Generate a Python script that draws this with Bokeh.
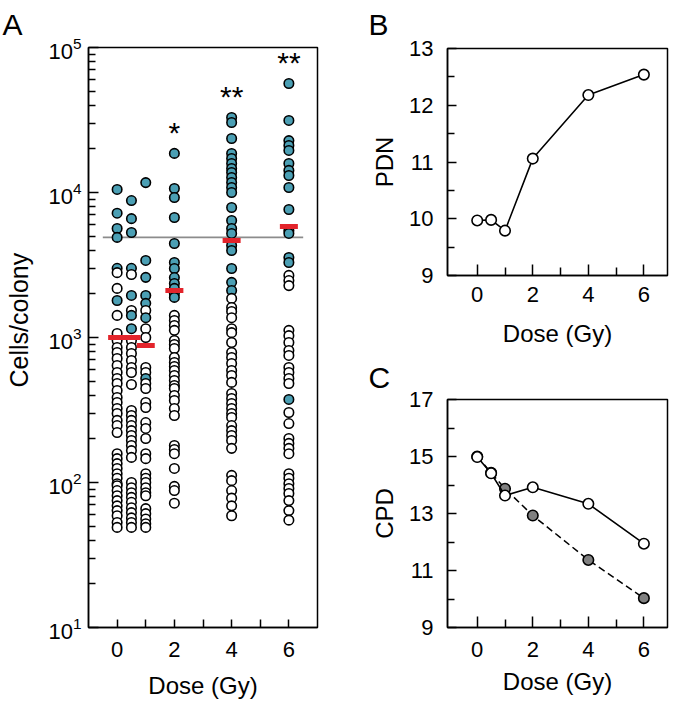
from bokeh.plotting import figure
from bokeh.models import Range1d, FixedTicker, Label, LogTickFormatter, Title
from bokeh.layouts import row, column
from bokeh.embed import file_html
from bokeh.resources import INLINE

FONT = "Liberation Sans"
TEAL = "#4b9fb4"
RED = "#e3242b"
GRAYFILL = "#808080"

# ---------------- Panel A data (cells/colony) ----------------
doses_a = [0, 0.5, 1, 2, 4, 6]

teal_0 = [10500, 7200, 5650, 4900, 3000, 1800]
open_0 = [2800, 2180, 1420, 1065, 954, 853, 788, 717, 641, 574, 522, 482, 431, 386,
          356, 324, 299, 268, 247, 221, 158, 146, 135, 125, 115, 107, 98, 95, 88, 81,
          75, 69, 64, 59, 53, 49]

teal_05 = [8800, 6600, 5300, 3000, 1950, 1420, 1150]
open_05 = [2720, 1535, 954, 853, 776, 694, 621, 574, 474, 314, 290, 268, 247, 228,
           211, 195, 180, 166, 149, 100, 92, 85, 79, 73, 67, 62, 57, 53, 49]

teal_1 = [11700, 3400, 2600, 1950, 1720, 1370, 522]
open_1 = [1535, 1150, 1000, 621, 574, 482, 445, 356, 329, 259, 236, 201, 158, 146,
          115, 107, 100, 92, 85, 81, 66, 61, 56, 52, 49]

teal_2 = [18600, 10650, 9240, 6720, 4450, 3290, 2990, 2590, 2360, 2180, 2010, 1890]
open_2 = [1420, 1310, 1210, 1120, 954, 895, 840, 728, 672, 631, 592, 547, 505, 467,
          445, 398, 368, 324, 290, 180, 169, 158, 125, 94, 88, 72]

teal_4 = [32900, 30400, 23570, 18570, 17160, 15850, 14640, 13740, 12690, 11720, 10830,
          10000, 7880, 6410, 5650, 5220, 4310, 3980, 2990, 2400, 2110]
open_4 = [1860, 1610, 1510, 1370, 1150, 1080, 924, 788, 728, 662, 592, 547, 490, 411,
          380, 351, 324, 299, 281, 247, 228, 211, 195, 172, 112, 103, 88, 78, 69, 59]

teal_6 = [56500, 31400, 22800, 21100, 19500, 15850, 14200, 13100, 10830, 7640, 5470,
          5220, 3560, 3290, 374]
open_6 = [2680, 2470, 2280, 1120, 1030, 924, 814, 752, 621, 574, 522, 482, 304, 255,
          201, 186, 172, 158, 115, 107, 98, 91, 84, 75, 64, 55]

teal_cols = [teal_0, teal_05, teal_1, teal_2, teal_4, teal_6]
open_cols = [open_0, open_05, open_1, open_2, open_4, open_6]
medians_a = [1000, 1000, 880, 2110, 4670, 5830]
threshold_a = 4900
significance = ["", "", "", "*", "**", "**"]
exponents = [1, 2, 3, 4, 5]

# ---------------- Panel B / C data ----------------
doses_bc = [0, 0.5, 1, 2, 4, 6]
pdn = [9.97, 9.98, 9.79, 11.06, 12.18, 12.54]
cpd_open = [14.98, 14.41, 13.63, 13.92, 13.34, 11.94]
cpd_filled = [15.0, 14.43, 13.87, 12.93, 11.37, 10.03]
ticks_b = [9, 10, 11, 12, 13]
ticks_c = [9, 11, 13, 15, 17]
xticks = [0, 2, 4, 6]
xminor = [1, 3, 5]


def style(p, xin, xmin_in, yin, ymin_in, xstand, ystand, xlab, ylab, xlstand, ylstand, ylsize="24px"):
    p.xgrid.visible = False
    p.ygrid.visible = False
    p.outline_line_color = "black"
    p.outline_line_width = 1.5
    p.background_fill_color = "white"
    p.border_fill_color = "white"
    for ax in (p.xaxis[0], p.yaxis[0]):
        ax.axis_line_width = 1.5
        ax.axis_line_color = "black"
        ax.major_tick_out = 0
        ax.minor_tick_out = 0
        ax.major_tick_line_width = 1.5
        ax.minor_tick_line_width = 1.5
        ax.major_tick_line_color = "black"
        ax.minor_tick_line_color = "black"
        ax.major_label_text_font = FONT
        ax.major_label_text_font_size = "22px"
        ax.major_label_text_color = "black"
        ax.axis_label_text_font = FONT
        ax.axis_label_text_font_style = "normal"
        ax.axis_label_text_color = "black"
    xa, ya = p.xaxis[0], p.yaxis[0]
    xa.major_tick_in = xin
    xa.minor_tick_in = xmin_in
    ya.major_tick_in = yin
    ya.minor_tick_in = ymin_in
    xa.major_label_standoff = xstand
    ya.major_label_standoff = ystand
    xa.axis_label = xlab
    ya.axis_label = ylab
    xa.axis_label_standoff = xlstand
    ya.axis_label_standoff = ylstand
    xa.axis_label_text_font_size = "24px"
    ya.axis_label_text_font_size = ylsize


def letter(p, text, offset, standoff):
    p.add_layout(Title(text=text, align="left", offset=offset, standoff=standoff,
                       vertical_align="top", text_font=FONT, text_font_size="30px",
                       text_font_style="normal", text_color="black"), "above")


# ================= Panel A =================
xa0, xa1 = -1, 7
ya0, ya1 = 10, 1e5
pa = figure(width=340, height=707, x_range=Range1d(xa0, xa1), y_range=Range1d(ya0, ya1),
            y_axis_type="log", output_backend="svg", toolbar_location=None,
            min_border_left=88, min_border_right=23, min_border_top=47, min_border_bottom=80)
nbsp = "\u00a0" * 5
style(pa, xin=8, xmin_in=8, yin=10, ymin_in=7, xstand=14, ystand=7,
      xlab="Dose (Gy)", ylab=nbsp + "Cells/colony", xlstand=12, ylstand=12, ylsize="25px")
pa.xaxis[0].ticker = FixedTicker(ticks=xticks, minor_ticks=xminor)
pa.yaxis[0].ticker = FixedTicker(ticks=[10 ** e for e in exponents],
                                 minor_ticks=[m * 10 ** e for e in exponents[:-1] for m in range(2, 10)])
pa.yaxis[0].formatter = LogTickFormatter()
letter(pa, "A", -86, 10)

pa.segment(x0=[doses_a[0] - 0.5], x1=[doses_a[-1] + 0.5], y0=[threshold_a], y1=[threshold_a],
           line_color="#8c8c8c", line_width=1.8)

xs, ys, fills = [], [], []
for d, tl, op in zip(doses_a, teal_cols, open_cols):
    pts = [(v, TEAL) for v in tl] + [(v, "white") for v in op]
    pts.sort(key=lambda t: -t[0])
    for v, c in pts:
        xs.append(d)
        ys.append(v)
        fills.append(c)
pa.scatter(xs, ys, size=9.5, fill_color=fills, line_color="black", line_width=1.6)

pa.rect(x=doses_a, y=medians_a, width=18, height=5, width_units="screen", height_units="screen",
        fill_color=RED, line_color=None)

for d, s, tl, op in zip(doses_a, significance, teal_cols, open_cols):
    if s:
        pa.add_layout(Label(x=d, y=max(tl + op), y_offset=21, text=s, text_font=FONT,
                            text_font_size="30px", text_align="center",
                            text_baseline="alphabetic", text_color="black"))

# ================= Panel B =================
xb0, xb1 = -1.07, 6.85
pb = figure(width=337, height=354, x_range=Range1d(xb0, xb1), y_range=Range1d(ticks_b[0], ticks_b[-1]),
            output_backend="svg", toolbar_location=None,
            min_border_left=107, min_border_right=10, min_border_top=48, min_border_bottom=79)
style(pb, xin=11, xmin_in=8, yin=9, ymin_in=7, xstand=11, ystand=14,
      xlab="Dose (Gy)", ylab="PDN", xlstand=15, ylstand=8)
pb.xaxis[0].ticker = FixedTicker(ticks=xticks, minor_ticks=xminor)
pb.yaxis[0].ticker = FixedTicker(ticks=ticks_b, minor_ticks=[t + 0.5 for t in ticks_b[:-1]])
letter(pb, "B", -79, 11)
pb.line(doses_bc, pdn, line_color="black", line_width=1.6)
pb.scatter(doses_bc, pdn, size=10.5, fill_color="white", line_color="black", line_width=1.6)

# ================= Panel C =================
pc = figure(width=337, height=353, x_range=Range1d(xb0, xb1), y_range=Range1d(ticks_c[0], ticks_c[-1]),
            output_backend="svg", toolbar_location=None,
            min_border_left=107, min_border_right=10, min_border_top=45, min_border_bottom=80)
style(pc, xin=11, xmin_in=8, yin=9, ymin_in=7, xstand=14, ystand=14,
      xlab="Dose (Gy)", ylab="CPD", xlstand=8, ylstand=8)
pc.xaxis[0].ticker = FixedTicker(ticks=xticks, minor_ticks=xminor)
pc.yaxis[0].ticker = FixedTicker(ticks=ticks_c, minor_ticks=[t + 1 for t in ticks_c[:-1]])
letter(pc, "C", -79, 8)
pc.line(doses_bc, cpd_filled, line_color="black", line_width=1.5, line_dash="7 4")
pc.scatter(doses_bc, cpd_filled, size=10.5, fill_color=GRAYFILL, line_color="black", line_width=1.6)
pc.line(doses_bc, cpd_open, line_color="black", line_width=1.6)
pc.scatter(doses_bc, cpd_open, size=10.5, fill_color="white", line_color="black", line_width=1.6)

layout = row(pa, column(pb, pc))
open("out.html", "w").write(file_html(layout, INLINE))
